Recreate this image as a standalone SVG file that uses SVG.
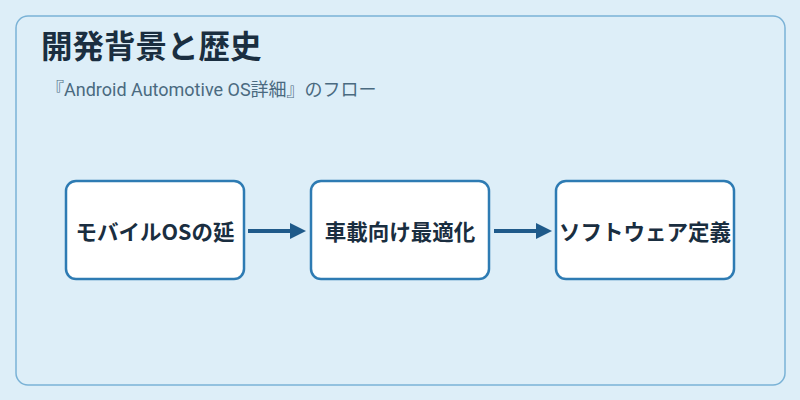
<svg xmlns="http://www.w3.org/2000/svg" width="800" height="400" viewBox="0 0 800 400">
<style>
.node rect{fill:#fff;stroke:#2e7bb3;stroke-width:2.5}
.node text{font-family:"Noto Sans CJK JP",sans-serif;font-size:21.5px;font-weight:bold;fill:#1a2e40;text-anchor:middle;dominant-baseline:central}
.conn line{stroke:#1f5a8a;stroke-width:4}
</style>
<defs><marker id="ah" markerWidth="4" markerHeight="4" refX="2" refY="2" orient="auto"><path d="M0,0 L4,2 L0,4 z" fill="#1f5a8a"/></marker></defs>
<rect width="800" height="400" fill="#ddeef8"/>
<rect x="16" y="16" width="769" height="369" rx="12" fill="#ddeef8" stroke="#7ab2d6" stroke-width="1.5"/>
<text x="41" y="58" font-family="'Noto Sans CJK JP',sans-serif" font-size="31.5" font-weight="bold" fill="#1a2e40">開発背景と歴史</text>
<text x="46" y="96" font-family="Roboto,'Noto Sans CJK JP',sans-serif" font-size="18" fill="#4a6a80">『Android Automotive OS詳細』のフロー</text>
<g class="conn">
<line x1="248" y1="231" x2="298" y2="231" marker-end="url(#ah)"/>
<line x1="494" y1="231" x2="544" y2="231" marker-end="url(#ah)"/>
</g>
<g class="node" id="n1"><rect x="66" y="181" width="178" height="98" rx="10"/><text x="155" y="230">モバイルOSの延</text></g>
<g class="node" id="n2"><rect x="311" y="181" width="178" height="98" rx="10"/><text x="400" y="230">車載向け最適化</text></g>
<g class="node" id="n3"><rect x="556" y="181" width="178" height="98" rx="10"/><text x="645" y="230">ソフトウェア定義</text></g>
</svg>
